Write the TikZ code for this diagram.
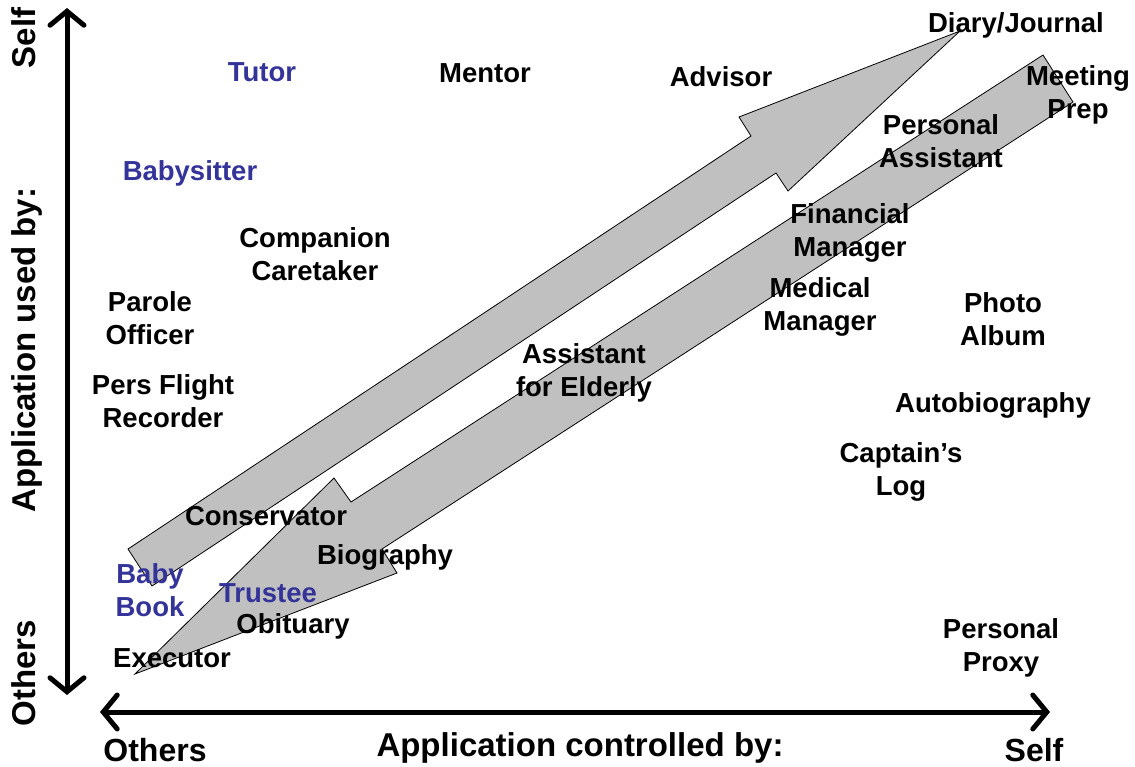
\documentclass[tikz,border=0pt]{standalone}
\usepackage{fontspec}
\setmainfont{Liberation Sans}
\usepackage{xcolor}
\usetikzlibrary{arrows.meta}
\definecolor{bandgray}{RGB}{192,192,192}
\definecolor{roleblue}{RGB}{51,51,153}

\begin{document}
\begin{tikzpicture}[x=1pt,y=-1pt,
  role/.style={font=\fontsize{27.5}{33}\selectfont\bfseries, align=center, inner sep=0pt},
  kidrole/.style={role, text=roleblue},
  axislabel/.style={font=\fontsize{33}{36}\selectfont\bfseries, inner sep=0pt},
  axisline/.style={line width=5pt, {Straight Barb[length=14pt,width=34pt,line cap=round]}-{Straight Barb[length=14pt,width=34pt,line cap=round]}},
  band/.style={fill=bandgray, draw=black, line width=0.8pt}]
\useasboundingbox (0,0) rectangle (1135,766);

% block arrows
\draw[band] (128,549) -- (751,136) -- (739,117) -- (960,31) -- (788,191) -- (776,173) -- (152,586) -- cycle;
\draw[band] (1043,55) -- (1073,102) -- (382,549) -- (397,573) -- (135,674) -- (334,478) -- (351,502) -- cycle;

% axes
\coordinate (ytop) at (67,8);
\coordinate (ybot) at (67,695);
\coordinate (xleft) at (100,712);
\coordinate (xright) at (1050,712);
\draw[axisline] (ybot) -- (ytop);
\draw[axisline] (xleft) -- (xright);

\node[axislabel, rotate=90, anchor=base] (yself) at (35,38) {Self};
\node[axislabel, rotate=90, anchor=base] (yused) at (35,350) {Application used by:};
\node[axislabel, rotate=90, anchor=base] (yothers) at (35,673) {Others};
\node[axislabel, font=\fontsize{32}{36}\selectfont\bfseries] (xothers) at (155,750) {Others};
\node[axislabel] (xctrl) at (580,748) {Application controlled by:};
\node[axislabel, font=\fontsize{32}{36}\selectfont\bfseries] (xself) at (1034,750) {Self};

% roles
\node[kidrole] (tutor) at (262,72) {Tutor};
\node[role] (mentor) at (485,73) {Mentor};
\node[role] (advisor) at (721,77) {Advisor};
\node[role] (diary) at (1016,25) {Diary/Journal};
\node[role] (meeting) at (1078,95) {Meeting\\Prep};
\node[kidrole] (babysitter) at (190,173) {Babysitter};
\node[role] (companion) at (315,254) {Companion\\Caretaker};
\node[role] (parole) at (150,318) {Parole\\Officer};
\node[role] (flight) at (163,401) {Pers Flight\\Recorder};
\node[role] (personal) at (941,141) {Personal\\Assistant};
\node[role] (financial) at (850,233) {Financial\\Manager};
\node[role] (medical) at (820,307) {Medical\\Manager};
\node[role] (photo) at (1003,319) {Photo\\Album};
\node[role] (elderly) at (584,373) {Assistant\\for Elderly};
\node[role] (autobio) at (993,405) {Autobiography};
\node[role] (captain) at (901,472) {Captain’s\\Log};
\node[role] (conservator) at (266,516) {Conservator};
\node[role] (biography) at (385,557) {Biography};
\node[kidrole] (babybook) at (150,590) {Baby\\Book};
\node[kidrole] (trustee) at (268,593) {Trustee};
\node[role] (obituary) at (293,626) {Obituary};
\node[role] (executor) at (172,658) {Executor};
\node[role] (proxy) at (1001,648) {Personal\\Proxy};
\end{tikzpicture}
\end{document}
